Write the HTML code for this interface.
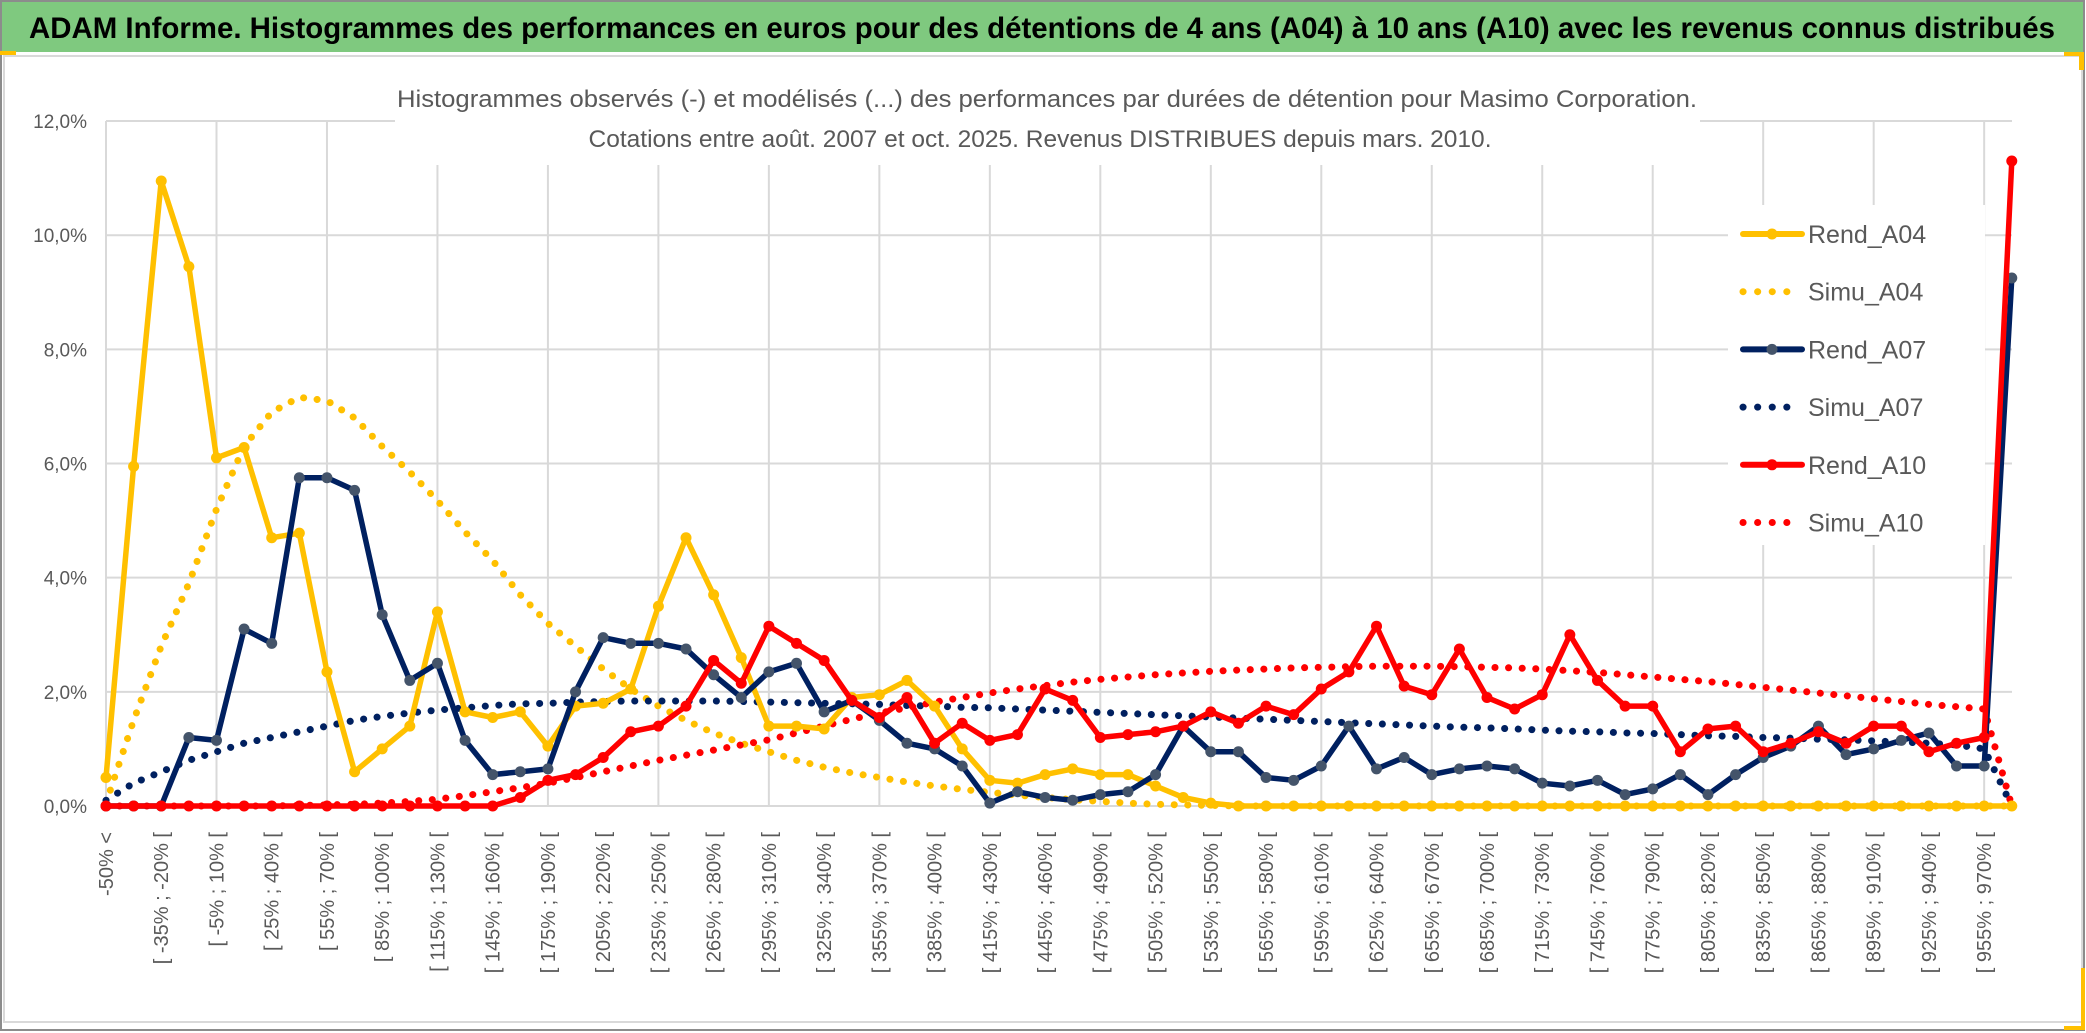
<!DOCTYPE html>
<html><head><meta charset="utf-8"><style>
html,body{margin:0;padding:0;background:#fff;}
svg{display:block;font-family:"Liberation Sans",sans-serif;}
</style></head><body>
<svg id="chart" width="2086" height="1033" viewBox="0 0 2086 1033">
<rect x="0" y="0" width="2086" height="1033" fill="#fff"/>
<rect x="1" y="1" width="2083" height="1029" fill="none" stroke="#8c8c8c" stroke-width="2"/>
<rect x="2" y="2" width="2081" height="50" fill="#7fc97f"/>
<rect x="0" y="51" width="16" height="4" fill="#ffc000"/>
<rect x="4" y="56" width="2078" height="966" fill="#fff" stroke="#d9d9d9" stroke-width="2"/>
<rect x="2064" y="52" width="20" height="4" fill="#ffc000"/>
<rect x="2079" y="52" width="5" height="18" fill="#ffc000"/>
<rect x="2081" y="968" width="4" height="62" fill="#ffc000"/>
<rect x="2064" y="1026" width="20" height="4" fill="#ffc000"/>
<text x="29" y="38" font-size="30" font-weight="bold" fill="#000" textLength="2026" lengthAdjust="spacingAndGlyphs">ADAM Informe. Histogrammes des performances en euros pour des détentions de 4 ans (A04) à 10 ans (A10) avec les revenus connus distribués</text>
<g id="grid"></g>
<g id="ylabels"></g>
<g id="xlabels"></g>
<rect x="395" y="78" width="1305" height="87" fill="#fff"/>
<text x="1047" y="107" font-size="24" fill="#595959" text-anchor="middle" textLength="1300" lengthAdjust="spacingAndGlyphs">Histogrammes observés (-) et modélisés (...) des performances par durées de détention pour Masimo Corporation.</text>
<text x="1040" y="147" font-size="24" fill="#595959" text-anchor="middle" textLength="903" lengthAdjust="spacingAndGlyphs">Cotations entre août. 2007 et oct. 2025. Revenus DISTRIBUES depuis mars. 2010.</text>
<rect x="1728" y="205" width="257" height="340" fill="#fff"/>
<g id="series"></g>
<g id="legend"></g>
</svg>
<script>
const rendA04 = [0.5,5.95,10.95,9.45,6.1,6.28,4.7,4.78,2.35,0.6,1.0,1.4,3.4,1.65,1.55,1.65,1.05,1.75,1.8,2.05,3.5,4.7,3.7,2.6,1.4,1.4,1.35,1.9,1.95,2.2,1.75,1.0,0.45,0.4,0.55,0.65,0.55,0.55,0.35,0.15,0.05,0,0,0,0,0,0,0,0,0,0,0,0,0,0,0,0,0,0,0,0,0,0,0,0,0,0,0,0,0];
const simuA04 = [0.05,1.5,2.8,3.9,5.2,6.3,6.9,7.16,7.1,6.8,6.3,5.85,5.35,4.8,4.3,3.7,3.2,2.8,2.4,2.05,1.75,1.5,1.28,1.1,0.95,0.8,0.68,0.58,0.5,0.42,0.35,0.29,0.24,0.19,0.15,0.11,0.08,0.05,0.03,0.02,0.01,0,0,0,0,0,0,0,0,0,0,0,0,0,0,0,0,0,0,0,0,0,0,0,0,0,0,0,0,0];
const rendA07 = [0,0,0,1.2,1.15,3.1,2.85,5.75,5.75,5.53,3.35,2.2,2.5,1.15,0.55,0.6,0.65,2.0,2.95,2.85,2.85,2.75,2.3,1.9,2.35,2.5,1.65,1.85,1.5,1.1,1.0,0.7,0.05,0.25,0.15,0.1,0.2,0.25,0.55,1.4,0.95,0.95,0.5,0.45,0.7,1.4,0.65,0.85,0.55,0.65,0.7,0.65,0.4,0.35,0.45,0.2,0.3,0.55,0.2,0.55,0.85,1.05,1.4,0.9,1.0,1.15,1.28,0.7,0.7,9.25];
const simuA07 = [0.1,0.4,0.6,0.8,0.95,1.1,1.2,1.3,1.4,1.5,1.57,1.63,1.68,1.72,1.76,1.79,1.8,1.82,1.83,1.84,1.84,1.84,1.84,1.83,1.82,1.81,1.8,1.79,1.78,1.76,1.75,1.73,1.72,1.7,1.68,1.66,1.64,1.62,1.6,1.58,1.56,1.54,1.52,1.5,1.48,1.46,1.44,1.42,1.4,1.38,1.37,1.35,1.33,1.31,1.3,1.28,1.27,1.25,1.23,1.22,1.2,1.19,1.17,1.16,1.14,1.12,1.1,1.07,1.0,0.0];
const rendA10 = [0,0,0,0,0,0,0,0,0,0,0,0,0,0,0,0.15,0.45,0.55,0.85,1.3,1.4,1.75,2.55,2.15,3.15,2.85,2.55,1.85,1.55,1.9,1.1,1.45,1.15,1.25,2.05,1.85,1.2,1.25,1.3,1.4,1.65,1.45,1.75,1.6,2.05,2.35,3.15,2.1,1.95,2.75,1.9,1.7,1.95,3.0,2.2,1.75,1.75,0.95,1.35,1.4,0.95,1.1,1.3,1.1,1.4,1.4,0.95,1.1,1.2,11.3];
const simuA10 = [0,0,0,0,0,0,0,0.01,0.02,0.03,0.05,0.08,0.12,0.18,0.25,0.32,0.4,0.5,0.6,0.7,0.8,0.89,0.98,1.07,1.16,1.28,1.4,1.52,1.63,1.72,1.82,1.9,1.98,2.05,2.11,2.17,2.22,2.26,2.3,2.33,2.36,2.38,2.4,2.42,2.43,2.44,2.45,2.45,2.45,2.44,2.43,2.42,2.4,2.37,2.34,2.3,2.26,2.22,2.18,2.13,2.08,2.03,1.98,1.93,1.88,1.83,1.78,1.74,1.7,0.0];
const yTicks = [0,2,4,6,8,10,12];
const categories = [];
categories.push("-50% <");
for (let k = 1; k < 69; k++) { const lo = -50 + 15*(k-1); categories.push("[ " + lo + "% ; " + (lo+15) + "% ["); }
categories.push("> 970%");

const NS = "http://www.w3.org/2000/svg";
const X0 = 106, STEP = 27.62, Y0 = 806, PPU = 57.08, PLOT_R = 2012;
function xPos(i){ return X0 + i*STEP; }
function yPos(v){ return Y0 - v*PPU; }
function mk(tag, attrs, parent){ const e=document.createElementNS(NS,tag); for(const k in attrs) e.setAttribute(k,attrs[k]); parent.appendChild(e); return e; }

const grid = document.getElementById('grid');
for (const t of yTicks) {
  const l = mk('line',{x1:X0,x2:PLOT_R,y1:yPos(t),y2:yPos(t),stroke:'#d9d9d9','stroke-width':2},grid);
  
  
}
for (let i = 0; i < categories.length; i += 4) {
  const l = mk('line',{x1:xPos(i),x2:xPos(i),y1:yPos(12),y2:Y0,stroke:'#d9d9d9','stroke-width':2},grid);
  
  
}
const yl = document.getElementById('ylabels');
for (const t of yTicks) {
  const tx = mk('text',{x:87,y:yPos(t)+7,'font-size':19,fill:'#595959','text-anchor':'end'},yl);
  tx.textContent = t.toFixed(1).replace('.',',') + '%';
  
  
}
const xl = document.getElementById('xlabels');
for (let i = 0; i < categories.length; i += 2) {
  const x = xPos(i)+7, y = 832;
  const tx = mk('text',{x:x,y:y,'font-size':20,fill:'#595959','text-anchor':'end',transform:'rotate(-90 '+x+' '+y+')'},xl);
  tx.textContent = categories[i];
  
  
}
const series = document.getElementById('series');
function pts(arr){ return arr.map((v,i)=>xPos(i).toFixed(1)+','+yPos(v).toFixed(1)).join(' '); }
function dotted(arr,color,name){
  const p = mk('polyline',{points:pts(arr),fill:'none',stroke:color,'stroke-width':7,'stroke-linecap':'round','stroke-dasharray':'0.1 13.5'},series);
  
  
}
function solid(arr,color,mcolor,name){
  const g = mk('g',{},series);
  
  
  mk('polyline',{points:pts(arr),fill:'none',stroke:color,'stroke-width':5.5,'stroke-linejoin':'round'},g);
  arr.forEach((v,i)=>{
    const c = mk('circle',{cx:xPos(i),cy:yPos(v),r:5.5,fill:mcolor},g);
    
    
  });
}
dotted(simuA04,'#ffc000','simu-a04-line');
dotted(simuA07,'#002060','simu-a07-line');
dotted(simuA10,'#ff0000','simu-a10-line');
solid(rendA04,'#ffc000','#ffc000','rend-a04-line');
solid(rendA07,'#002060','#44546a','rend-a07-line');
solid(rendA10,'#ff0000','#ff0000','rend-a10-line');

const legend = document.getElementById('legend');
const entries = [['Rend_A04','#ffc000','#ffc000',false],['Simu_A04','#ffc000',null,true],['Rend_A07','#002060','#44546a',false],['Simu_A07','#002060',null,true],['Rend_A10','#ff0000','#ff0000',false],['Simu_A10','#ff0000',null,true]];
entries.forEach((e,k)=>{
  const y = 234 + k*57.7;
  const g = mk('g',{},legend);
  
  
  if (e[3]) {
    mk('line',{x1:1743,x2:1800,y1:y,y2:y,stroke:e[1],'stroke-width':7,'stroke-linecap':'round','stroke-dasharray':'0.1 14.5'},g);
  } else {
    mk('line',{x1:1743,x2:1802,y1:y,y2:y,stroke:e[1],'stroke-width':6,'stroke-linecap':'round'},g);
    mk('circle',{cx:1772,cy:y,r:5.5,fill:e[2]},g);
  }
  const t = mk('text',{x:1808,y:y+9,'font-size':25,fill:'#595959'},g);
  t.textContent = e[0];
});
</script>
</body></html>
